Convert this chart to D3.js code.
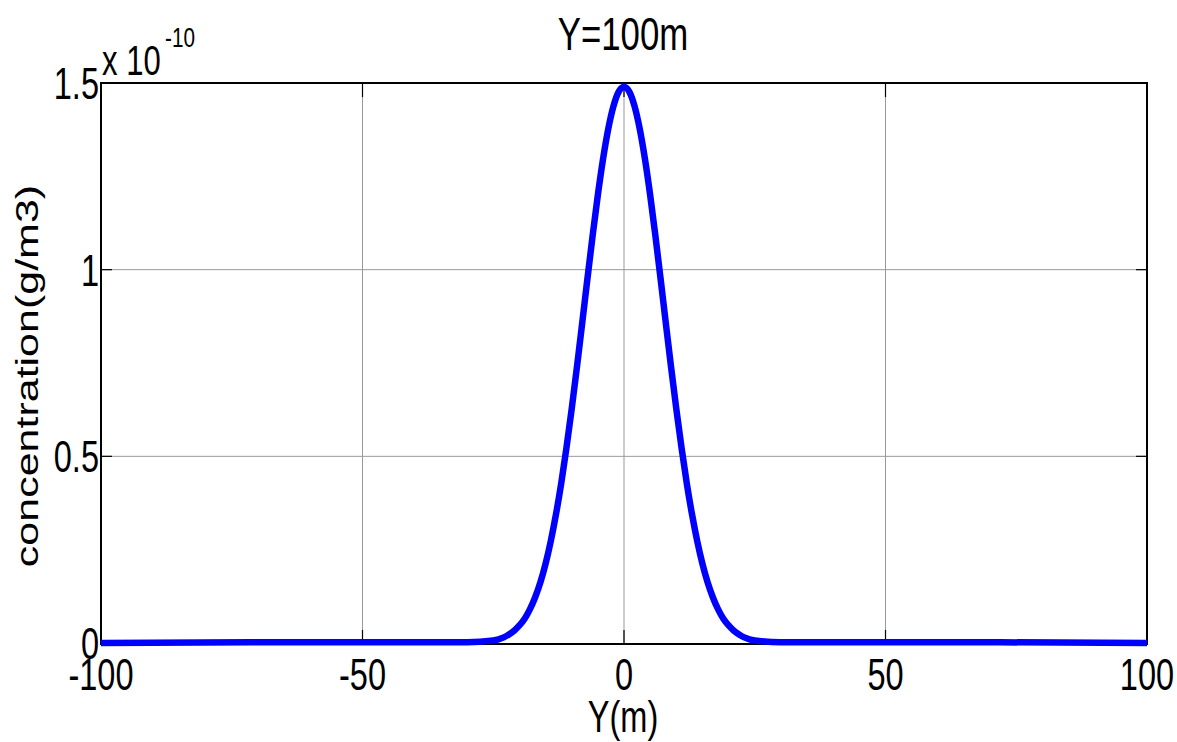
<!DOCTYPE html>
<html>
<head>
<meta charset="utf-8">
<script src="https://cdn.jsdelivr.net/npm/d3@7"></script>
<style>
  body { margin: 0; background: #fff; }
  svg { display: block; font-family: "Liberation Sans", Arial, sans-serif; }
</style>
</head>
<body>
<svg id="chart" width="1177" height="742"></svg>
<script>
// distance Y (m)
const yDist = [-100, -65, -30, -25, -24, -23, -22, -21, -20, -19, -18, -17, -16, -15, -14, -13, -12, -11, -10,
  -9, -8, -7, -6, -5, -4, -3, -2, -1, 0, 1, 2, 3, 4, 5, 6, 7, 8, 9, 10,
  11, 12, 13, 14, 15, 16, 17, 18, 19, 20, 21, 22, 23, 24, 25, 30, 65, 100];
// concentration, in units of 1e-10 g/m3
const conc = [0, 0.002, 0.002, 0.007, 0.010, 0.015, 0.023, 0.033, 0.047, 0.065, 0.090, 0.122, 0.162, 0.212, 0.273, 0.345, 0.428, 0.523, 0.627,
  0.739, 0.856, 0.975, 1.091, 1.200, 1.297, 1.378, 1.439, 1.477, 1.490, 1.477, 1.439, 1.378, 1.297, 1.200, 1.091, 0.975, 0.856, 0.739, 0.627,
  0.523, 0.428, 0.345, 0.273, 0.212, 0.162, 0.122, 0.090, 0.065, 0.047, 0.033, 0.023, 0.015, 0.010, 0.007, 0.002, 0.002, 0];

const xTicks = [-100, -50, 0, 50, 100];
const yTicks = [0, 0.5, 1, 1.5];
const yTickLabels = ["0", "0.5", "1", "1.5"];
const xTickLabels = ["-100", "-50", "0", "50", "100"];

const plotLeft = 101, plotRight = 1147, plotTop = 83, plotBottom = 644;
const squeeze = 0.74; // text in the reference is horizontally condensed

const svg = d3.select("#chart");

const x = d3.scaleLinear().domain([-100, 100]).range([plotLeft, plotRight]);
const y = d3.scaleLinear().domain([0, 1.5]).range([643, plotTop]);

// grid
svg.append("g")
  .selectAll("line")
  .data(xTicks.slice(1, -1))
  .join("line")
  .attr("x1", d => x(d)).attr("x2", d => x(d))
  .attr("y1", plotTop).attr("y2", plotBottom)
  .attr("stroke", "#999").attr("stroke-width", 1);

svg.append("g")
  .selectAll("line")
  .data(yTicks.slice(1, -1))
  .join("line")
  .attr("x1", plotLeft).attr("x2", plotRight)
  .attr("y1", d => y(d)).attr("y2", d => y(d))
  .attr("stroke", "#999").attr("stroke-width", 1);

// tick marks (inside, all four sides)
const tickG = svg.append("g").attr("stroke", "#000").attr("stroke-width", 1.2);
xTicks.forEach(d => {
  tickG.append("line").attr("x1", x(d)).attr("x2", x(d)).attr("y1", plotBottom).attr("y2", plotBottom - 14);
  tickG.append("line").attr("x1", x(d)).attr("x2", x(d)).attr("y1", plotTop).attr("y2", plotTop + 14);
});
yTicks.forEach(d => {
  tickG.append("line").attr("x1", plotLeft).attr("x2", plotLeft + 11).attr("y1", y(d)).attr("y2", y(d));
  tickG.append("line").attr("x1", plotRight).attr("x2", plotRight - 11).attr("y1", y(d)).attr("y2", y(d));
});

// box
svg.append("rect")
  .attr("x", plotLeft).attr("y", plotTop)
  .attr("width", plotRight - plotLeft).attr("height", plotBottom - plotTop)
  .attr("fill", "none").attr("stroke", "#000").attr("stroke-width", 2);

// curve
const line = d3.line()
  .x((d, i) => x(yDist[i]))
  .y(d => y(d))
  .curve(d3.curveMonotoneX);

svg.append("path")
  .datum(conc)
  .attr("d", line)
  .attr("fill", "none")
  .attr("stroke", "#0000ff")
  .attr("stroke-width", 6.5)
  .attr("stroke-linejoin", "round");

// helper for condensed text
function label(px, py, txt, size, anchor, rotate) {
  const g = svg.append("g")
    .attr("transform", `translate(${px},${py}) scale(${squeeze},1)` + (rotate ? ` rotate(${rotate})` : ""));
  return g.append("text")
    .attr("text-anchor", anchor)
    .attr("font-size", size)
    .attr("fill", "#000")
    .text(txt);
}

// x tick labels
xTicks.forEach((d, i) => label(x(d), 690, xTickLabels[i], 44, "middle"));

// y tick labels
yTicks.forEach((d, i) => label(99, y(d) + 16, yTickLabels[i], 44, "end"));

// exponent
label(102, 75, "x 10", 42, "start");
label(165, 47, "-10", 28, "start");

// title and axis labels
label(623, 50, "Y=100m", 47, "middle");
label(623, 732, "Y(m)", 44, "middle");
label(38, 376, "concentration(g/m3)", 43, "middle", -90);
</script>
</body>
</html>
